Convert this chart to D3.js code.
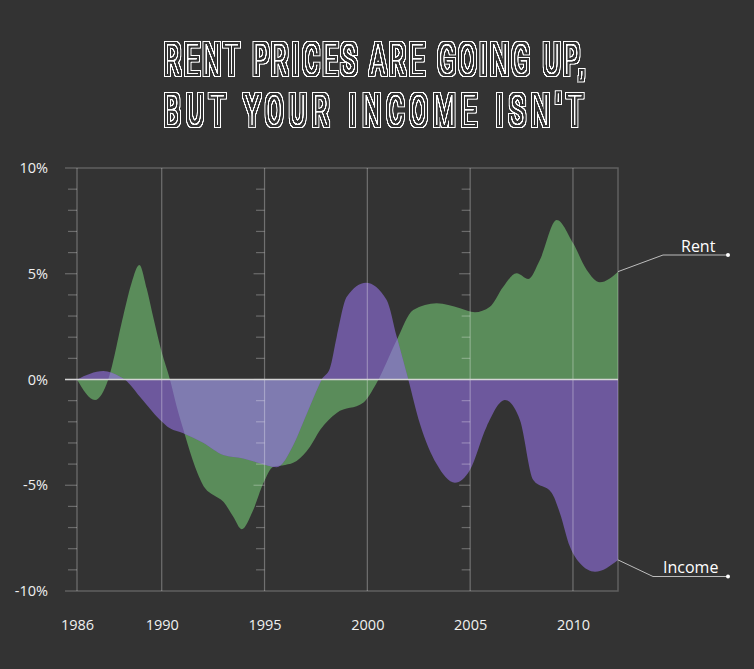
<!DOCTYPE html>
<html><head><meta charset="utf-8">
<script src="https://cdn.jsdelivr.net/npm/d3@7/dist/d3.min.js"></script>
<style>
html,body{margin:0;padding:0;background:#333333;}
svg{display:block;}
</style></head>
<body>
<svg id="chart" width="754" height="669"></svg>
<script>
// ---- data ----
const titleLines = ["RENT PRICES ARE GOING UP,", "BUT YOUR INCOME ISN'T"];
const xTickYears = [1985.88, 1990, 1995, 2000, 2005, 2010];
const xTickLabels = ["1986", "1990", "1995", "2000", "2005", "2010"];
const yLabelTicks = [10, 5, 0, -5, -10];
const yMinorTicks = d3.range(-10, 11, 1);
const tickedYears = [1985.88, 1995, 2005];

const rentYears = [1985.88, 1986.76, 1987.40, 1988.12, 1988.53, 1988.91, 1989.27, 1989.6, 1990.0, 1990.40, 1990.73, 1991.13, 1991.62, 1992.11, 1992.51, 1993.00, 1993.48, 1993.89, 1994.45, 1994.94, 1995.43, 1996.0, 1996.56, 1997.21, 1997.70, 1998.51, 1999.80, 2000.45, 2001.43, 2002.23, 2003.37, 2004.51, 2005.23, 2005.96, 2006.61, 2007.26, 2007.83, 2008.39, 2009.21, 2010.01, 2010.67, 2011.31, 2012.19];
const rentValues = [0, -0.97, 0, 2.97, 4.55, 5.41, 4.3, 2.9, 1.3, 0, -1.29, -2.62, -4.12, -5.14, -5.46, -5.78, -6.49, -7.08, -6.17, -4.91, -4.12, -4.04, -3.85, -3.18, -2.39, -1.58, -1.10, -0.17, 1.87, 3.29, 3.60, 3.37, 3.18, 3.44, 4.39, 5.02, 4.75, 5.65, 7.54, 6.44, 5.18, 4.60, 5.10];

const incomeYears = [1985.88, 1987.16, 1987.97, 1988.2, 1988.94, 1989.92, 1990.40, 1991.05, 1992.02, 1993.0, 1993.97, 1994.78, 1995.59, 1996.40, 1996.89, 1997.37, 1997.78, 1998.18, 1998.51, 1999.0, 1999.93, 2000.94, 2001.43, 2001.99, 2002.56, 2003.37, 2004.26, 2004.99, 2005.80, 2006.69, 2007.42, 2008.07, 2008.96, 2009.37, 2009.85, 2010.34, 2011.07, 2012.19];
const incomeValues = [0, 0.40, 0.13, 0, -0.81, -1.91, -2.31, -2.54, -2.99, -3.57, -3.73, -3.96, -4.15, -3.1, -2.0, -0.89, 0, 0.53, 2.02, 3.91, 4.58, 3.76, 2.02, 0, -2.1, -4.0, -4.88, -4.28, -2.23, -0.97, -1.91, -4.75, -5.35, -6.33, -7.9, -8.69, -9.09, -8.53];

const seriesNames = ["Rent", "Income"];

// ---- setup ----
const svg = d3.select("#chart");
const defs = svg.append("defs");
const x = d3.scaleLinear().domain([1985.88, 2012.19]).range([77, 618]);
const y = d3.scaleLinear().domain([-10, 10]).range([591, 168]);

const rent = rentYears.map((d, i) => ({ x: d, v: rentValues[i] }));
const income = incomeYears.map((d, i) => ({ x: d, v: incomeValues[i] }));

const area = d3.area().x(d => x(d.x)).y0(y(0)).y1(d => y(d.v)).curve(d3.curveMonotoneX);

// title with inline effect (outer ring drawn by filter around thin glyphs)
const f = defs.append("filter").attr("id", "inline")
  .attr("x", "-5%").attr("y", "-30%").attr("width", "110%").attr("height", "160%");
const ct = f.append("feComponentTransfer").attr("in", "SourceAlpha").attr("result", "coreA");
ct.append("feFuncA").attr("type", "linear").attr("slope", 2.2).attr("intercept", 0);
f.append("feMorphology").attr("in", "coreA").attr("operator", "dilate").attr("radius", 3).attr("result", "d2");
f.append("feMorphology").attr("in", "coreA").attr("operator", "dilate").attr("radius", 2).attr("result", "d1");
f.append("feComposite").attr("in", "d2").attr("in2", "d1").attr("operator", "out").attr("result", "ring");
f.append("feComposite").attr("in", "ring").attr("in2", "coreA").attr("operator", "xor").attr("result", "shape");
f.append("feFlood").attr("flood-color", "#ffffff").attr("result", "w");
f.append("feComposite").attr("in", "w").attr("in2", "shape").attr("operator", "in");

const tg = svg.append("g").attr("filter", "url(#inline)");
const titleBase = [73.5, 124.5];
const titleLeft = 165;
const titleWidth = [419, 417];
const sx = 0.55;
titleLines.forEach((t, i) => {
  tg.append("text")
    .attr("transform", `translate(${titleLeft},${titleBase[i]}) scale(${sx},1)`)
    .attr("x", 0).attr("y", 0)
    .attr("textLength", titleWidth[i] / sx).attr("lengthAdjust", "spacing")
    .style("font-family", "Roboto, Lato, sans-serif")
    .style("font-weight", 100)
    .style("font-size", "43px")
    .attr("fill", "#ffffff")
    .text(t);
});

// clip for overlap
defs.append("clipPath").attr("id", "rentClip").append("path").attr("d", area(rent));

const plot = svg.append("g");
plot.append("path").attr("d", area(rent)).attr("fill", "#5a8c5a");
plot.append("path").attr("d", area(income)).attr("fill", "#6d589d");
plot.append("path").attr("d", area(income)).attr("fill", "#7f7bb0").attr("clip-path", "url(#rentClip)");

// gridlines
const grid = svg.append("g");
grid.selectAll("line.v").data(xTickYears).enter().append("line")
  .attr("x1", d => x(d)).attr("x2", d => x(d))
  .attr("y1", y(10)).attr("y2", y(-10))
  .attr("stroke", "rgba(255,255,255,0.3)").attr("stroke-width", 1.2);

// frame
grid.append("path")
  .attr("d", `M65,${y(10)}H${x(2012.19)}V${y(-10)}H65`)
  .attr("fill", "none").attr("stroke", "rgba(255,255,255,0.22)").attr("stroke-width", 1.5);

// minor/major ticks at ticked gridlines
tickedYears.forEach((yr, j) => {
  const gx = x(yr);
  const big = j === 0 ? 12 : 11;
  const small = j === 0 ? 9 : 8.5;
  grid.append("g").selectAll("line").data(yMinorTicks.filter(v => Math.abs(v) !== 10)).enter().append("line")
    .attr("x1", d => gx - (d % 5 === 0 ? big : small)).attr("x2", gx)
    .attr("y1", d => y(d)).attr("y2", d => y(d))
    .attr("stroke", "rgba(255,255,255,0.28)").attr("stroke-width", 1.2);
});

// zero line
svg.append("line").attr("x1", 65).attr("x2", x(2012.19)).attr("y1", y(0)).attr("y2", y(0))
  .attr("stroke", "#d4d4d4").attr("stroke-width", 1.5);

// y axis labels
const yAxis = d3.axisLeft(y).tickValues(yLabelTicks).tickFormat(d => d + "%").tickSize(0).tickPadding(29);
const ya = svg.append("g").attr("transform", `translate(77,0)`).call(yAxis);
ya.select(".domain").remove();
ya.selectAll("text").style("font-family", "'Open Sans', sans-serif").style("font-size", "14.5px").attr("fill", "#f0f0f0");

// x axis labels
const xAxis = d3.axisBottom(x).tickValues(xTickYears).tickFormat((d, i) => xTickLabels[i]).tickSize(0).tickPadding(0);
const xa = svg.append("g").attr("transform", `translate(0,620)`).call(xAxis);
xa.select(".domain").remove();
xa.selectAll("text").attr("dy", "0.72em").attr("y", 0).style("font-family", "'Open Sans', sans-serif").style("font-size", "14.5px").attr("fill", "#f0f0f0");

// series labels with leader lines
const leaders = [
  { name: seriesNames[0], v: rentValues[rentValues.length - 1], elbow: [663, 255], end: 728, tx: 681, ty: 252 },
  { name: seriesNames[1], v: incomeValues[incomeValues.length - 1], elbow: [653, 576.5], end: 728, tx: 663, ty: 573 }
];
leaders.forEach(l => {
  svg.append("path")
    .attr("d", `M${x(2012.19)},${y(l.v)}L${l.elbow[0]},${l.elbow[1]}H${l.end}`)
    .attr("fill", "none").attr("stroke", "#bdbdbd").attr("stroke-width", 1);
  svg.append("circle").attr("cx", l.end).attr("cy", l.elbow[1]).attr("r", 2).attr("fill", "#ffffff");
  svg.append("text").attr("x", l.tx).attr("y", l.ty)
    .style("font-family", "'Open Sans', sans-serif").style("font-size", "16px")
    .attr("fill", "#ffffff").text(l.name);
});
</script>
</body></html>
